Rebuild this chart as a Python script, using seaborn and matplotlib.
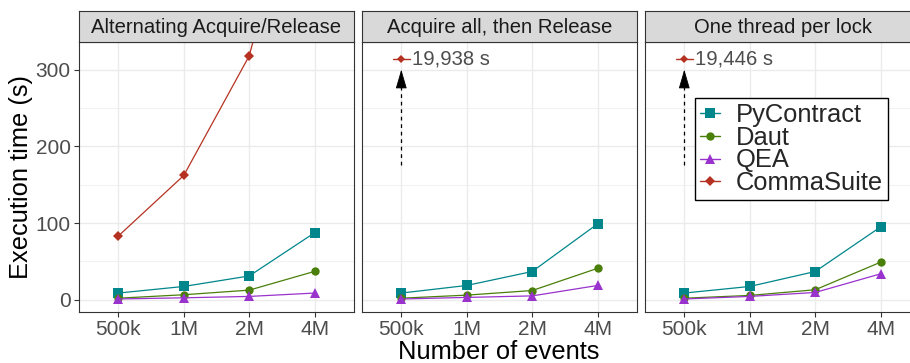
import numpy as np
import pandas as pd
import matplotlib
matplotlib.use("Agg")
import matplotlib.pyplot as plt
from matplotlib.ticker import MultipleLocator
from matplotlib.lines import Line2D
import seaborn as sns

# ---- data (seconds) ----
events = ["500k", "1M", "2M", "4M"]
panels = ["Alternating Acquire/Release", "Acquire all, then Release", "One thread per lock"]
tools = ["PyContract", "Daut", "QEA", "CommaSuite"]

pycontract = [[8.7, 17.3, 31.0, 87.4], [8.7, 18.6, 36.8, 99.0], [8.7, 17.3, 36.8, 95.0]]
daut = [[2.0, 6.5, 12.5, 37.0], [2.0, 6.0, 12.0, 41.0], [2.0, 5.6, 13.0, 49.0]]
qea = [[1.0, 2.5, 4.3, 8.7], [1.0, 3.0, 5.0, 18.6], [1.0, 4.3, 9.5, 33.8]]
commasuite = [[83.0, 162.0, 318.0, 640.0],
              [19938.0, np.nan, np.nan, np.nan],
              [19446.0, np.nan, np.nan, np.nan]]

colors = {"PyContract": "#00868B", "Daut": "#4A7F0A", "QEA": "#9A32CD", "CommaSuite": "#B53222"}
markers = {"PyContract": "s", "Daut": "o", "QEA": "^", "CommaSuite": "D"}
msizes = {"PyContract": 7.2, "Daut": 6.0, "QEA": 7.2, "CommaSuite": 4.6}

rows = []
for p, name in enumerate(panels):
    for tool, vals in zip(tools, [pycontract, daut, qea, commasuite]):
        for k, ev in enumerate(events):
            rows.append({"panel": name, "tool": tool, "event": ev, "pos": k, "time": vals[p][k]})
df = pd.DataFrame(rows)

YMAX = 320  # visible range, values above are annotated
ylim = (-0.05 * YMAX, 1.05 * YMAX)

sns.set_style("white")
plt.rcParams["font.family"] = ["Liberation Sans", "DejaVu Sans"]

W, H = 910, 363
fig = plt.figure(figsize=(W / 100, H / 100), dpi=100)

lefts = [79, 362, 645]
pw = 275
top, bottom, strip_top = 42, 312, 11
edge = "#333333"

axes = []
for i, name in enumerate(panels):
    ax = fig.add_axes([lefts[i] / W, (H - bottom) / H, pw / W, (bottom - top) / H])
    sax = fig.add_axes([lefts[i] / W, (H - top) / H, pw / W, (top - strip_top) / H])
    sax.set_facecolor("#D9D9D9")
    sax.set_xticks([])
    sax.set_yticks([])
    for s in sax.spines.values():
        s.set_color(edge)
        s.set_linewidth(0.8)
    sax.text(0.5, 0.48, name, ha="center", va="center", fontsize=14.6, color="#1A1A1A",
             transform=sax.transAxes)

    sub = df[df.panel == name]
    for tool in tools:
        d = sub[sub.tool == tool].dropna()
        sns.lineplot(data=d, x="pos", y="time", ax=ax, color=colors[tool], marker=markers[tool],
                     markersize=msizes[tool], markeredgewidth=0, linewidth=0.9, legend=False,
                     errorbar=None, zorder=3)

    ax.set_xlim(-0.6, 3.6)
    ax.set_ylim(*ylim)
    ax.set_xticks(range(len(events)))
    ax.set_xticklabels(events)
    ax.yaxis.set_major_locator(MultipleLocator(100))
    ax.yaxis.set_minor_locator(MultipleLocator(50))
    ax.set_axisbelow(True)
    ax.grid(which="major", color="#EBEBEB", linewidth=1.0)
    ax.grid(which="minor", axis="y", color="#EBEBEB", linewidth=0.5)
    ax.tick_params(which="minor", length=0)
    ax.tick_params(axis="both", which="major", length=3.5, width=0.8, color=edge,
                   labelsize=15, labelcolor="#4D4D4D", pad=2.5, direction="out")
    ax.tick_params(axis="x", bottom=True)
    if i == 0:
        ax.tick_params(axis="y", left=True)
    else:
        ax.tick_params(axis="y", left=False, labelleft=False)
    ax.set_xlabel("")
    ax.set_ylabel("")
    for s in ax.spines.values():
        s.set_color(edge)
        s.set_linewidth(0.8)

    # off-scale CommaSuite value: marker + label + dashed arrow
    off = sub[(sub.tool == "CommaSuite") & (sub.time > YMAX)]
    if i > 0 and len(off):
        x0 = off.pos.iloc[0]
        val = off.time.iloc[0]
        lab_y = 314
        ax.plot([x0 - 0.13, x0 + 0.13], [lab_y, lab_y], color=colors["CommaSuite"], lw=1.0,
                clip_on=False, zorder=4)
        ax.plot([x0], [lab_y], marker="D", ms=4.2, color=colors["CommaSuite"], mew=0, zorder=5)
        ax.text(x0 + 0.16, lab_y, f"{val:,.0f} s", ha="left", va="center", fontsize=14.6,
                color="#4D4D4D")
        ax.plot([x0, x0], [175, 288], color="black", lw=0.9, ls=(0, (3, 3)), zorder=4)
        ax.annotate("", xy=(x0, 300), xytext=(x0, 284),
                    arrowprops=dict(arrowstyle="-|>,head_length=1.1,head_width=0.32",
                                    color="black", lw=0.6, mutation_scale=11,
                                    shrinkA=0, shrinkB=0), zorder=5)
    axes.append(ax)

handles = [Line2D([], [], color=colors[t], marker=markers[t], markersize=msizes[t],
                  markeredgewidth=0, linewidth=1.0) for t in tools]
leg = axes[2].legend(handles, tools, loc="upper left", bbox_to_anchor=(0.18, 0.793),
                     borderaxespad=0, fontsize=18.4, frameon=True, fancybox=False,
                     edgecolor="black", framealpha=1, handlelength=0.8, handletextpad=0.6,
                     labelspacing=-0.05, borderpad=0.2)
leg.get_frame().set_linewidth(1.0)

fig.text(21 / W, 1 - 177 / H, "Execution time (s)", rotation=90, ha="center", va="center",
         fontsize=18.4, color="black")
fig.text(499 / W, 1 - 352 / H, "Number of events", ha="center", va="center",
         fontsize=18.4, color="black")

fig.savefig("out.png", dpi=100)
